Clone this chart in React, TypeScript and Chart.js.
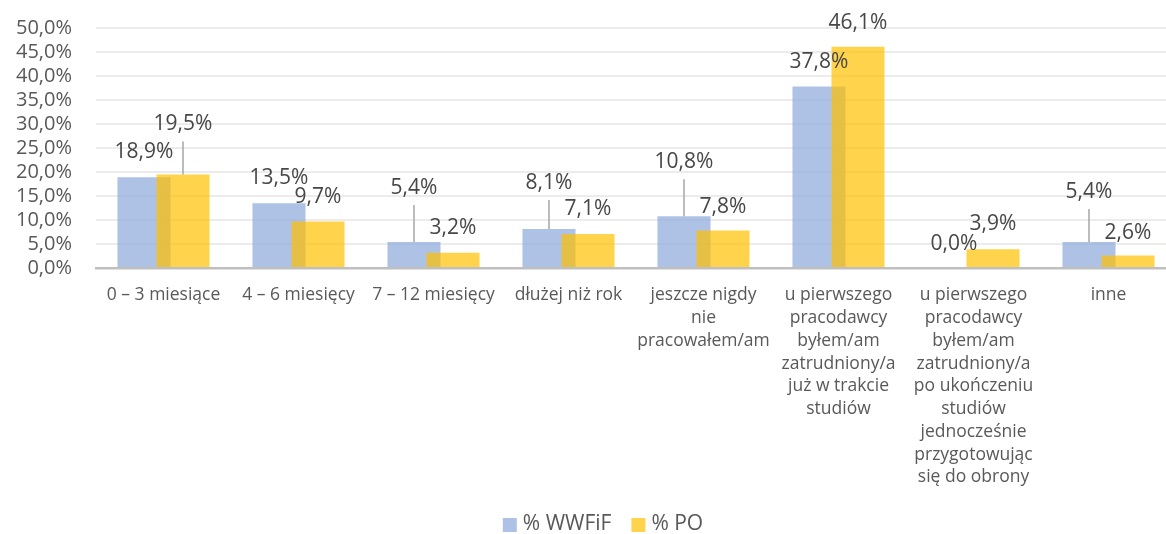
import React, { useEffect, useRef } from "react";
import { Chart, registerables } from "chart.js";

Chart.register(...registerables);

const categories: string[][] = [
  ["0 – 3 miesiące"],
  ["4 – 6 miesięcy"],
  ["7 – 12 miesięcy"],
  ["dłużej niż rok"],
  ["jeszcze nigdy", "nie", "pracowałem/am"],
  ["u pierwszego", "pracodawcy", "byłem/am", "zatrudniony/a", "już w trakcie", "studiów"],
  ["u pierwszego", "pracodawcy", "byłem/am", "zatrudniony/a", "po ukończeniu", "studiów", "jednocześnie", "przygotowując", "się do obrony"],
  ["inne"],
];

const seriesNames = ["% WWFiF", "% PO"];
const wwfifValues = [18.9, 13.5, 5.4, 8.1, 10.8, 37.8, 0.0, 5.4];
const poValues = [19.5, 9.7, 3.2, 7.1, 7.8, 46.1, 3.9, 2.6];

const yMin = 0;
const yMax = 50;
const yStep = 5;

// styling: label lift (px above bar top), leader line drawn when lifted far
const liftA = [25, 25, 54, 46, 54, 25, 24, 50];
const liftB = [50, 24, 25, 25, 24, 24, 25, 23];

const FONT = "'Open Sans', sans-serif";
const TEXT = "#595959";
const LABEL_TEXT = "#474747";
const SHIFT = 8;
const fmt = (v: number) => v.toFixed(1).replace(".", ",") + "%";

// draw the first series underneath the second one (Excel-like overlap)
const drawOrderPlugin = {
  id: "drawOrder",
  beforeDatasetDraw(chart: any, args: any) {
    if (args.index === 0) return false;
    if (args.index === 1) {
      const meta0 = chart.getDatasetMeta(0);
      if (meta0 && meta0.visible !== false) meta0.controller.draw();
    }
    return true;
  },
};

const labelsPlugin = {
  id: "dataLabels",
  afterDatasetsDraw(chart: any) {
    const ctx = chart.ctx;
    const lifts = [liftA, liftB];
    ctx.save();
    ctx.font = `21px ${FONT}`;
    ctx.fillStyle = LABEL_TEXT;
    ctx.textAlign = "center";
    ctx.textBaseline = "middle";
    chart.data.datasets.forEach((ds: any, di: number) => {
      const meta = chart.getDatasetMeta(di);
      meta.data.forEach((bar: any, i: number) => {
        const lift = lifts[di][i];
        const ly = bar.y - lift;
        if (lift > 40) {
          ctx.save();
          ctx.strokeStyle = "#a6a6a6";
          ctx.lineWidth = 1.5;
          ctx.beginPath();
          ctx.moveTo(bar.x, ly + 17);
          ctx.lineTo(bar.x, bar.y);
          ctx.stroke();
          ctx.restore();
        }
        ctx.fillText(fmt(ds.data[i]), bar.x, ly);
      });
    });
    ctx.restore();
  },
};

const legendPlugin = {
  id: "customLegend",
  afterDraw(chart: any) {
    const ctx = chart.ctx;
    ctx.save();
    ctx.font = `21px ${FONT}`;
    ctx.textBaseline = "middle";
    ctx.textAlign = "left";
    const box = 14;
    const gap = 6;
    const itemGap = 20;
    const items = chart.data.datasets.map((ds: any) => ({
      label: ds.label,
      color: ds.backgroundColor,
      w: box + gap + ctx.measureText(ds.label).width,
    }));
    const total = items.reduce((s: number, it: any) => s + it.w, 0) + itemGap * (items.length - 1);
    let x = 603 - total / 2;
    const y = 524 + SHIFT;
    items.forEach((it: any) => {
      ctx.fillStyle = it.color;
      ctx.fillRect(x, y - box / 2 + 1, box, box);
      ctx.fillStyle = TEXT;
      ctx.fillText(it.label, x + box + gap, y);
      x += it.w + itemGap;
    });
    ctx.restore();
  },
};

export default function App() {
  const ref = useRef<HTMLCanvasElement | null>(null);
  useEffect(() => {
    if (!ref.current) return;
    const chart = new Chart(ref.current, {
      type: "bar",
      data: {
        labels: categories,
        datasets: [
          {
            label: seriesNames[0],
            data: wwfifValues,
            backgroundColor: "rgba(143,170,220,0.72)",
            categoryPercentage: 0.578,
            barPercentage: 1.36,
          },
          {
            label: seriesNames[1],
            data: poValues,
            backgroundColor: "rgba(255,192,0,0.70)",
            categoryPercentage: 0.578,
            barPercentage: 1.36,
          },
        ],
      },
      options: {
        responsive: false,
        animation: false,
        layout: { padding: { left: 0, right: 14, top: 19, bottom: 0 } },
        plugins: {
          legend: { display: false },
          tooltip: { enabled: false },
        },
        scales: {
          x: {
            grid: { display: false, drawTicks: false },
            border: { display: true, color: "#bfbfbf", width: 2.5 },
            ticks: {
              color: TEXT,
              font: { family: FONT, size: 17.5, lineHeight: 1.3 },
              padding: 16,
              maxRotation: 0,
              autoSkip: false,
            },
            afterFit: (s: any) => {
              s.height = 266;
            },
          },
          y: {
            min: yMin,
            max: yMax,
            grid: { color: "#ececec", lineWidth: 2, drawTicks: false },
            border: { display: false },
            ticks: {
              stepSize: yStep,
              autoSkip: false,
              color: TEXT,
              font: { family: FONT, size: 20 },
              padding: 24,
              callback: (v: any) => fmt(Number(v)),
            },
            afterFit: (s: any) => {
              s.width = 96;
            },
          },
        },
      },
      plugins: [drawOrderPlugin, labelsPlugin, legendPlugin],
    });
    return () => chart.destroy();
  }, []);
  return (
    <div style={{ position: "fixed", left: 0, top: 0, width: 1166, height: 534, overflow: "hidden", background: "#fff" }}>
      <canvas ref={ref} width={1190} height={534 + SHIFT} style={{ display: "block", marginTop: -SHIFT }} />
    </div>
  );
}
